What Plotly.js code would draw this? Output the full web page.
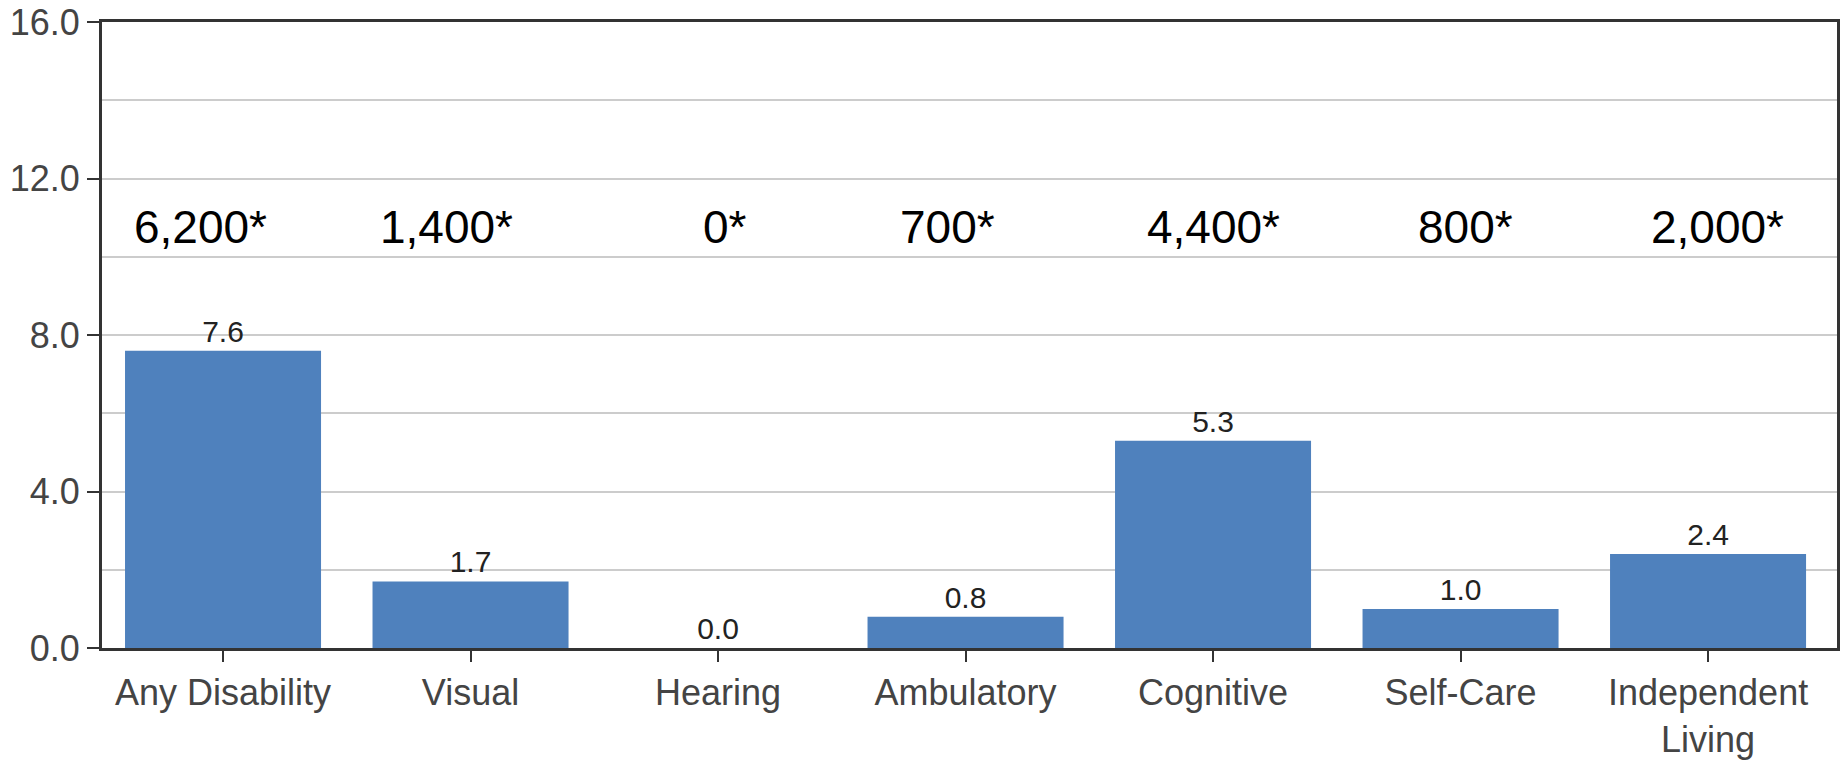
<!DOCTYPE html>
<html>
<head>
<meta charset="utf-8">
<script src="https://cdn.plot.ly/plotly-3.0.1.min.js"></script>
<style>html,body{margin:0;padding:0;background:#fff;}#chart{width:1843px;height:767px;}</style>
</head>
<body>
<div id="chart"></div>
<script>
var categories = ["Any Disability", "Visual", "Hearing", "Ambulatory", "Cognitive", "Self-Care", "Independent<br>Living"];
var rates = [7.6, 1.7, 0.0, 0.8, 5.3, 1.0, 2.4];
var counts = ["6,200*", "1,400*", "0*", "700*", "4,400*", "800*", "2,000*"];
var countLabelY = 10.75;
var countShift = [-23, -24, 7, -18, 0, 5, 9];
var yTickVals = [0, 4, 8, 12, 16];

var xIdx = categories.map(function (c, i) { return i; });

var trace = {
  type: "bar",
  x: xIdx,
  y: rates,
  text: rates.map(function (v) { return v.toFixed(1); }),
  textposition: "outside",
  cliponaxis: false,
  textfont: { family: "Liberation Sans, Arial, sans-serif", size: 30, color: "#222" },
  marker: { color: "#4F81BD", line: { width: 0 } },
  hoverinfo: "none"
};

var annotations = counts.map(function (t, i) {
  return {
    x: i, y: countLabelY, xref: "x", yref: "y",
    text: t, showarrow: false, xshift: countShift[i],
    xanchor: "center", yanchor: "middle",
    font: { family: "Liberation Sans, Arial, sans-serif", size: 46, color: "#000" }
  };
});

var layout = {
  width: 1843, height: 767,
  margin: { l: 102, r: 6, t: 22, b: 119, pad: 0 },
  paper_bgcolor: "#fff", plot_bgcolor: "#fff",
  showlegend: false,
  bargap: 0.208,
  font: { family: "Liberation Sans, Arial, sans-serif" },
  xaxis: {
    range: [-0.489, 6.521],
    tickmode: "array", tickvals: xIdx, ticktext: categories,
    ticks: "outside", ticklen: 11, tickwidth: 2, tickcolor: "#333",
    showline: true, linecolor: "#333", linewidth: 3, mirror: true,
    showgrid: false, zeroline: false,
    tickfont: { size: 36, color: "#444", family: "Liberation Sans, Arial, sans-serif" }
  },
  yaxis: {
    range: [0, 16],
    tickmode: "array", tickvals: yTickVals, tickformat: ".1f",
    ticks: "outside", ticklen: 12, tickwidth: 2, tickcolor: "#333",
    showline: true, linecolor: "#333", linewidth: 3, mirror: true,
    showgrid: true, gridcolor: "#cccccc", gridwidth: 2,
    minor: { dtick: 2, showgrid: true, gridcolor: "#cccccc", gridwidth: 2, ticks: "" },
    zeroline: false,
    tickfont: { size: 36, color: "#444", family: "Liberation Sans, Arial, sans-serif" }
  },
  annotations: annotations
};

Plotly.newPlot("chart", [trace], layout, { displayModeBar: false, staticPlot: true });
</script>
</body>
</html>
